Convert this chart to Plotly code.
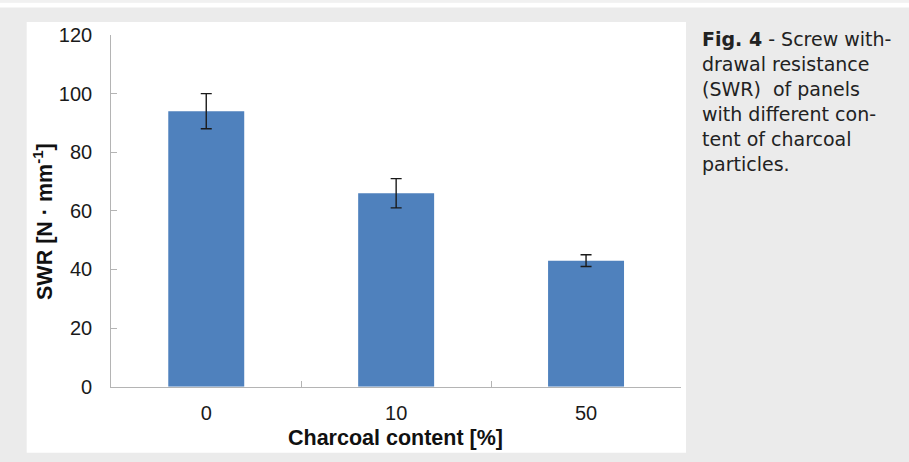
import plotly.graph_objects as go

categories = ["0", "10", "50"]
swr_values = [94, 66, 43]
swr_errors = [6, 5, 2]
y_ticks = [0, 20, 40, 60, 80, 100, 120]

caption_lines = [
    "<b>Fig. 4</b> - Screw with-",
    "drawal resistance",
    "(SWR)&nbsp; of panels",
    "with different con-",
    "tent of charcoal",
    "particles.",
]

W, H = 909, 462

def px(x):
    return x / W

def py(y):
    return 1 - y / H

fig = go.Figure()
fig.add_trace(go.Bar(
    x=categories, y=swr_values,
    marker=dict(color="#4f81bd", line=dict(width=0)),
    error_y=dict(type="data", array=swr_errors, visible=True,
                 color="#1a1a1a", thickness=1.4, width=5.5),
))

shapes = [
    dict(type="rect", xref="paper", yref="paper", x0=0, x1=1, y0=py(2.7), y1=1,
         fillcolor="#f1f1f1", line=dict(width=0), layer="below"),
    dict(type="rect", xref="paper", yref="paper", x0=0, x1=1, y0=py(7.5), y1=py(2.7),
         fillcolor="#ffffff", line=dict(width=0), layer="below"),
    dict(type="rect", xref="paper", yref="paper", x0=px(26.7), x1=px(686), y0=py(452.7), y1=py(22),
         fillcolor="#ffffff", line=dict(width=0), layer="below"),
]

annotations = []
line_centers = [39, 64, 89, 114, 139, 164]
for txt, yc in zip(caption_lines, line_centers):
    annotations.append(dict(
        text=txt, xref="paper", yref="paper", x=px(700), y=py(yc),
        xanchor="left", yanchor="middle", showarrow=False, align="left",
        font=dict(family="DejaVu Sans", size=19, color="#222222"),
    ))

# axis titles placed as rotated / plain annotations for exact positioning
annotations.append(dict(
    text="<b>SWR [N · mm<sup>-1</sup>]</b>", xref="paper", yref="paper",
    x=px(43), y=py(222), xanchor="center", yanchor="middle", textangle=-90,
    showarrow=False, font=dict(family="Liberation Sans, Arial", size=21.5, color="#111111"),
))
annotations.append(dict(
    text="<b>Charcoal content [%]</b>", xref="paper", yref="paper",
    x=px(395), y=py(437.5), xanchor="center", yanchor="middle",
    showarrow=False, font=dict(family="Liberation Sans, Arial", size=21.5, color="#111111"),
))

fig.update_layout(
    width=W, height=H,
    margin=dict(l=0, r=0, t=0, b=0, autoexpand=False),
    paper_bgcolor="#ebebeb",
    plot_bgcolor="rgba(0,0,0,0)",
    showlegend=False,
    bargap=0.6,
    shapes=shapes,
    annotations=annotations,
    font=dict(family="Liberation Sans, Arial", color="#1a1a1a"),
    xaxis=dict(
        domain=[px(111.3), px(681)],
        type="category", automargin=False,
        showline=True, linecolor="#b4b4b4", linewidth=1.3,
        ticks="inside", tickson="boundaries", ticklen=6, tickcolor="#b4b4b4", tickwidth=1.3,
        showgrid=False, zeroline=False,
        tickfont=dict(size=20, color="#1a1a1a"),
        ticklabelstandoff=8,
    ),
    yaxis=dict(
        domain=[py(386.7), py(35)],
        range=[0, 120], automargin=False,
        tickvals=y_ticks,
        showline=True, linecolor="#b4b4b4", linewidth=1.3,
        ticks="inside", ticklen=6, tickcolor="#b4b4b4", tickwidth=1.3,
        showgrid=False, zeroline=False,
        tickfont=dict(size=20, color="#1a1a1a"),
        ticklabelstandoff=14,
    ),
)

fig.write_html(
    "out.html",
    config={"displayModeBar": False},
    post_script="document.body.style.margin='0';document.body.style.overflow='hidden';",
)
